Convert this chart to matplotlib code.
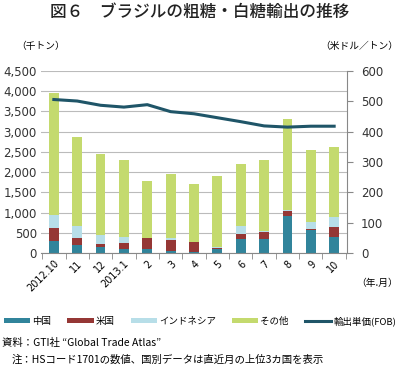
import matplotlib
matplotlib.use("Agg")
import matplotlib.pyplot as plt
import numpy as np

# ---------------------------------------------------------------------------
# Data (千トン / 米ドル/トン)
# ---------------------------------------------------------------------------
months = ["2012.10", "11", "12", "2013.1", "2", "3", "4", "5", "6", "7", "8", "9", "10"]
china = [306, 207, 157, 107, 91, 41, 33, 100, 355, 355, 909, 562, 405]
usa = [322, 157, 58, 133, 273, 273, 231, 25, 108, 174, 141, 25, 248]
indonesia = [314, 314, 223, 165, 6, 66, 0, 30, 215, 25, 16, 182, 231]
total = [3950, 2876, 2455, 2306, 1777, 1942, 1694, 1901, 2207, 2298, 3306, 2537, 2628]
price = [506, 501, 487, 481, 489, 466, 459, 446, 433, 419, 415, 418, 418]

other = [t - c - u - i for t, c, u, i in zip(total, china, usa, indonesia)]

C_CHINA = "#31849B"
C_USA = "#953735"
C_INDO = "#B7DEE8"
C_OTHER = "#C4DA6E"
C_LINE = "#1F5568"

plt.rcParams["font.family"] = ["Noto Sans CJK JP", "DejaVu Sans"]

fig = plt.figure(figsize=(4.0, 3.7), dpi=100)
ax = fig.add_axes([41 / 400, 1 - 253 / 370, 306 / 400, 182 / 370])

x = np.arange(len(months))
w = 0.42
bottom = np.zeros(len(months))
for vals, col, lab in [(china, C_CHINA, "中国"), (usa, C_USA, "米国"),
                       (indonesia, C_INDO, "インドネシア"), (other, C_OTHER, "その他")]:
    ax.bar(x, vals, w, bottom=bottom, color=col, label=lab, zorder=2)
    bottom += np.array(vals)

ax.set_ylim(0, 4500)
ax.set_xlim(-0.55, len(months) - 0.45)
ax.set_yticks(np.arange(0, 4501, 500))
ax.set_yticklabels([f"{v:,}" for v in range(0, 4501, 500)], fontsize=8.5,
                   family="DejaVu Sans", color="#333333")
ax.yaxis.grid(True, color="#BBBBBB", linewidth=0.8, zorder=0)
ax.tick_params(axis="y", length=0, pad=3)

ax.set_xticks(x)
ax.set_xticklabels(months, rotation=45, ha="right", rotation_mode="anchor",
                   fontsize=7, family="DejaVu Sans")
ax.tick_params(axis="x", length=0, pad=4)
ax.set_xticks(np.arange(-0.5, len(months)), minor=True)
ax.tick_params(axis="x", which="minor", length=4, color="#888888", direction="out")

for s in ["top", "right", "left"]:
    ax.spines[s].set_visible(False)
ax.spines["bottom"].set_color("#888888")

ax2 = ax.twinx()
ax2.plot(x, price, color=C_LINE, linewidth=2.2, label="輸出単価(FOB)", zorder=3)
ax2.set_ylim(0, 600)
ax2.set_yticks(np.arange(0, 601, 100))
ax2.set_yticklabels([str(v) for v in range(0, 601, 100)], fontsize=8.5,
                    family="DejaVu Sans", color="#333333")
ax2.tick_params(axis="y", length=4, color="#888888", pad=6)
for s in ["top", "left", "bottom"]:
    ax2.spines[s].set_visible(False)
ax2.spines["right"].set_color("#888888")

# titles / units
fig.text(0.5, 1 - 12 / 370, "図６　ブラジルの粗糖・白糖輸出の推移", ha="center", va="center",
         fontsize=12, fontweight="medium", color="#222222")
fig.text(16 / 400, 1 - 46 / 370, "（千トン）", ha="left", va="center", fontsize=7)
fig.text(398 / 400, 1 - 46 / 370, "（米ドル／トン）", ha="right", va="center", fontsize=7)
fig.text(398 / 400, 1 - 283 / 370, "（年.月）", ha="right", va="center", fontsize=7)

h1, l1 = ax.get_legend_handles_labels()
h2, l2 = ax2.get_legend_handles_labels()
fig.legend(h1 + h2, l1 + l2, loc="center", bbox_to_anchor=(0.5, 1 - 321 / 370),
           ncol=5, frameon=False, fontsize=6.8, handlelength=2.8, handleheight=0.5,
           handletextpad=0.2, columnspacing=1.7, borderpad=0, borderaxespad=0)

fig.text(2 / 400, 1 - 343 / 370, "資料：GTI社 “Global Trade Atlas”", ha="left", va="center",
         fontsize=7.5)
fig.text(12 / 400, 1 - 360 / 370, "注：HSコード1701の数値、国別データは直近月の上位3カ国を表示",
         ha="left", va="center", fontsize=7.5)

fig.savefig("out.png", dpi=100, facecolor="white")
